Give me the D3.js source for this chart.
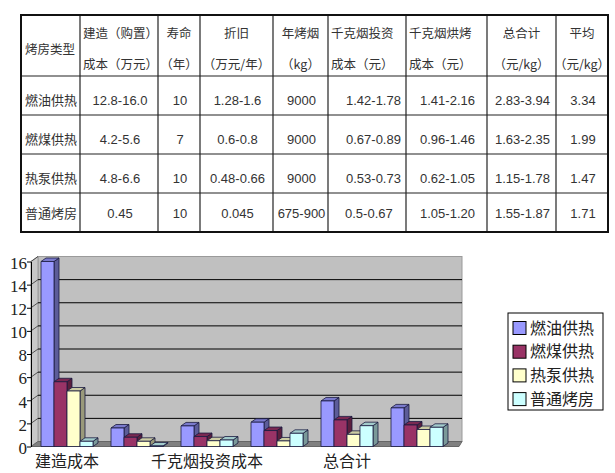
<!DOCTYPE html>
<html>
<head>
  <meta charset="utf-8">
  <title>烤房成本对比</title>
  <script src="https://d3js.org/d3.v7.min.js"></script>
  <style>
    body { margin: 0; background: #fff; }
    .cell-text { font-family: "Liberation Sans", Arial, sans-serif; font-size: 13px; fill: #333; }
    .cn { font-family: "Noto Sans CJK SC", sans-serif; font-size: 12.5px; fill: #333; }
    .axis text { font-family: "Liberation Serif", "Times New Roman", serif; font-size: 17px; fill: #222; }
    .axis path, .axis line { stroke: #000; }
    .cat-label, .legend text { font-family: "Noto Sans CJK SC", sans-serif; font-size: 16px; fill: #222; }
  </style>
</head>
<body>
  <script>
    // table data
    var tableHeaders = [["烤房类型"], ["建造（购置）", "成本（万元）"], ["寿命", "（年）"], ["折旧", "（万元/年）"],
        ["年烤烟", "（kg）"], ["千克烟投资", "成本（元）"], ["千克烟烘烤", "成本（元）"], ["总合计", "（元/kg）"], ["平均", "（元/kg）"]];
    var houseTypes = ["燃油供热", "燃煤供热", "热泵供热", "普通烤房"];
    var buildCost = ["12.8-16.0", "4.2-5.6", "4.8-6.6", "0.45"];
    var lifeYears = ["10", "7", "10", "10"];
    var depreciation = ["1.28-1.6", "0.6-0.8", "0.48-0.66", "0.045"];
    var annualTobacco = ["9000", "9000", "9000", "675-900"];
    var investPerKg = ["1.42-1.78", "0.67-0.89", "0.53-0.73", "0.5-0.67"];
    var curePerKg = ["1.41-2.16", "0.96-1.46", "0.62-1.05", "1.05-1.20"];
    var totalPerKg = ["2.83-3.94", "1.63-2.35", "1.15-1.78", "1.55-1.87"];
    var avgPerKg = ["3.34", "1.99", "1.47", "1.71"];

    // chart data
    var categories = ["建造成本", "折旧", "千克烟投资成本", "千克烟烘烤成本", "总合计", "平均"];
    var oilValues = [16.0, 1.6, 1.78, 2.1, 3.94, 3.34];
    var coalValues = [5.6, 0.8, 0.86, 1.38, 2.3, 1.86];
    var pumpValues = [4.8, 0.45, 0.5, 0.48, 1.05, 1.47];
    var normalValues = [0.45, 0.05, 0.56, 1.14, 1.8, 1.66];
    var yMax = 16;

    var width = 615, height = 473;
    var svg = d3.select("body").append("svg")
        .attr("width", width)
        .attr("height", height);

    // ---------- table ----------
    var colEdges = [21, 80, 158, 200, 273, 328, 406, 487, 556, 608];
    var rowEdges = [15, 76, 115, 154, 193, 232];
    var columns = [houseTypes, buildCost, lifeYears, depreciation, annualTobacco, investPerKg, curePerKg, totalPerKg, avgPerKg];
    var headerAlign = ["left", "left", "mid", "mid", "mid", "left", "left", "mid", "mid"];

    var table = svg.append("g");

    table.selectAll("line.v")
        .data(colEdges.slice(1, -1))
        .enter().append("line")
        .attr("x1", d => d).attr("x2", d => d)
        .attr("y1", rowEdges[0]).attr("y2", rowEdges[rowEdges.length - 1])
        .attr("stroke", "#222").attr("stroke-width", 1.2);

    table.selectAll("line.h")
        .data(rowEdges.slice(1, -1))
        .enter().append("line")
        .attr("y1", d => d).attr("y2", d => d)
        .attr("x1", colEdges[0]).attr("x2", colEdges[colEdges.length - 1])
        .attr("stroke", "#222").attr("stroke-width", 1.2);

    table.append("rect")
        .attr("x", colEdges[0]).attr("y", rowEdges[0])
        .attr("width", colEdges[colEdges.length - 1] - colEdges[0])
        .attr("height", rowEdges[rowEdges.length - 1] - rowEdges[0])
        .attr("fill", "none").attr("stroke", "#111").attr("stroke-width", 2);

    tableHeaders.forEach(function(lines, c) {
        var left = colEdges[c], right = colEdges[c + 1];
        var alignLeft = headerAlign[c] === "left";
        var x = alignLeft ? left + (c === 0 ? 4 : 3) : (left + right) / 2;
        var ys = lines.length === 1 ? [50] : [34, 65];
        lines.forEach(function(t, i) {
            table.append("text")
                .attr("class", "cn")
                .attr("x", x).attr("y", ys[i])
                .attr("dy", "0.35em")
                .attr("text-anchor", alignLeft ? "start" : "middle")
                .text(t);
        });
    });

    columns.forEach(function(col, c) {
        var left = colEdges[c], right = colEdges[c + 1];
        col.forEach(function(t, r) {
            var top = rowEdges[r + 1], bottom = rowEdges[r + 2];
            var y = (top + bottom) / 2 + (r === col.length - 1 ? 1 : 5);
            var txt = table.append("text")
                .attr("y", y).attr("dy", "0.35em")
                .text(t);
            if (c === 0) {
                txt.attr("class", "cn").attr("x", left + 4).style("font-size", "13px");
            } else if (c === 5) {
                txt.attr("class", "cell-text").attr("x", left + 18 - (r === 3 ? 1 : 0));
            } else {
                txt.attr("class", "cell-text").attr("x", (left + right) / 2 + 1).attr("text-anchor", "middle");
            }
        });
    });

    // ---------- 3D column chart ----------
    var seriesValues = [oilValues, coalValues, pumpValues, normalValues];
    var frontColors = ["#9999ff", "#993366", "#ffffcc", "#ccffff"];
    var sideColors = ["#5c5c99", "#5c1f3d", "#99997a", "#7a9999"];
    var topColors = ["#7a7acc", "#7a2952", "#cccca3", "#a3cccc"];

    var wallDx = 7, wallDy = -5;   // depth of the back wall
    var barDx = 5, barDy = -3.5;   // depth of one bar

    var x = d3.scaleBand()
        .domain(categories)
        .range([31, 451]);

    var xInner = d3.scaleBand()
        .domain(d3.range(seriesValues.length))
        .range([0, 52]);

    var y = d3.scaleLinear()
        .domain([0, yMax])
        .range([446.5, 261.5]);

    var yBack = function(v) { return y(v) + wallDy; };
    var x0 = x.range()[0], x1 = x.range()[1];
    var ticks = y.ticks(8);

    var chart = svg.append("g");

    // back wall
    chart.append("rect")
        .attr("x", x0 + wallDx).attr("y", yBack(yMax))
        .attr("width", x1 - x0 + 4).attr("height", yBack(0) - yBack(yMax))
        .attr("fill", "#c0c0c0").attr("stroke", "#9a9a9a").attr("stroke-width", 1);

    // side wall
    chart.append("path")
        .attr("d", d3.line()([[x0, y(yMax)], [x0 + wallDx, yBack(yMax)], [x0 + wallDx, yBack(0)], [x0, y(0)]]) + "Z")
        .attr("fill", "#c8c8c8").attr("stroke", "#9a9a9a");

    // floor
    chart.append("path")
        .attr("d", d3.line()([[x0, y(0)], [x0 + wallDx, yBack(0)], [x1 + wallDx + 4, yBack(0)], [x1 + 8, y(0)]]) + "Z")
        .attr("fill", "#808080").attr("stroke", "#666");

    // gridlines
    chart.selectAll("line.grid")
        .data(ticks.filter(d => d > 0 && d < yMax))
        .enter().append("line")
        .attr("x1", x0 + wallDx).attr("x2", x1 + wallDx + 4)
        .attr("y1", d => yBack(d)).attr("y2", d => yBack(d))
        .attr("stroke", "#000").attr("stroke-width", 1);

    chart.selectAll("line.sidegrid")
        .data(ticks.filter(d => d > 0))
        .enter().append("line")
        .attr("x1", x0).attr("x2", x0 + wallDx)
        .attr("y1", d => y(d)).attr("y2", d => yBack(d))
        .attr("stroke", "#333").attr("stroke-width", 0.8);

    // bars
    categories.forEach(function(cat, ci) {
        seriesValues.forEach(function(vals, si) {
            var bx = x(cat) + 10 + xInner(si);
            var bw = xInner.bandwidth();
            var yt = y(vals[ci]), yb = y(0);
            var g = chart.append("g").attr("stroke", "#1a1a40").attr("stroke-width", 0.8).attr("stroke-linejoin", "round");
            g.append("path")
                .attr("d", d3.line()([[bx + bw, yt], [bx + bw + barDx, yt + barDy], [bx + bw + barDx, yb + barDy], [bx + bw, yb]]) + "Z")
                .attr("fill", sideColors[si]);
            g.append("path")
                .attr("d", d3.line()([[bx, yt], [bx + barDx, yt + barDy], [bx + bw + barDx, yt + barDy], [bx + bw, yt]]) + "Z")
                .attr("fill", topColors[si]);
            g.append("rect")
                .attr("x", bx).attr("y", yt)
                .attr("width", bw).attr("height", yb - yt)
                .attr("fill", frontColors[si]);
        });
    });

    // y axis
    chart.append("g")
        .attr("class", "axis")
        .attr("transform", "translate(" + x0 + ",0)")
        .call(d3.axisLeft(y).tickValues(ticks).tickSize(4).tickSizeOuter(0).tickPadding(0))
        .selectAll("text").attr("dy", "0.4em");

    // category labels, every second one like the original
    chart.selectAll("text.cat-label")
        .data(categories.filter((d, i) => i % 2 === 0))
        .enter().append("text")
        .attr("class", "cat-label")
        .attr("x", d => x(d) + x.bandwidth() / 2 + 1)
        .attr("y", 461)
        .attr("dy", "0.35em")
        .attr("text-anchor", "middle")
        .text(d => d);

    // legend
    var legend = svg.append("g").attr("class", "legend");
    legend.append("rect")
        .attr("x", 508).attr("y", 313).attr("width", 95).attr("height", 97)
        .attr("fill", "#fff").attr("stroke", "#000").attr("stroke-width", 1);

    var item = legend.selectAll("g.item")
        .data(houseTypes)
        .enter().append("g")
        .attr("transform", (d, i) => "translate(513," + (328 + i * 23.7) + ")");

    item.append("rect")
        .attr("x", 0).attr("y", -6.5).attr("width", 13).attr("height", 13)
        .attr("fill", (d, i) => frontColors[i]).attr("stroke", "#000").attr("stroke-width", 1);

    item.append("text")
        .attr("x", 17).attr("dy", "0.36em")
        .text(d => d);
  </script>
</body>
</html>
